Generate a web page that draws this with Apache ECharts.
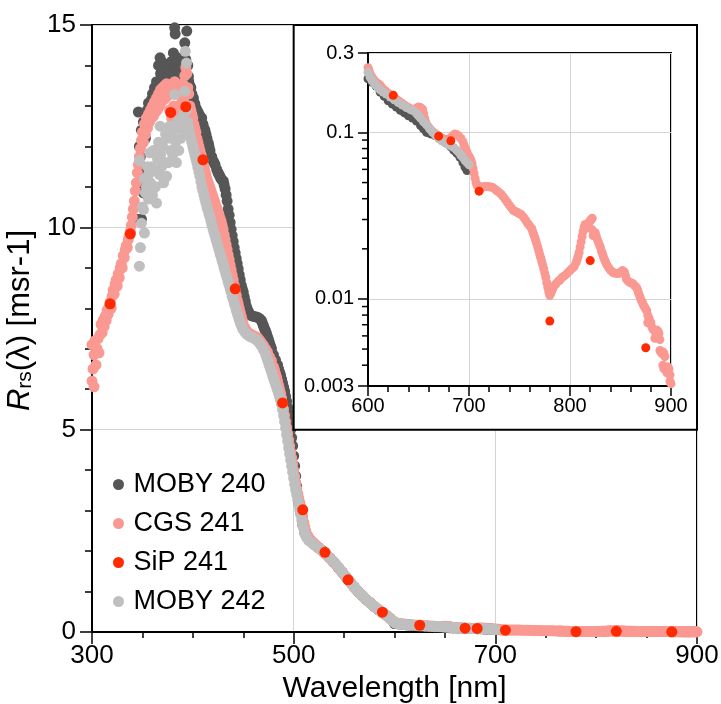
<!DOCTYPE html>
<html><head><meta charset="utf-8">
<script src="https://cdn.jsdelivr.net/npm/echarts@6/dist/echarts.min.js"></script>
<style>html,body{margin:0;padding:0;background:#fff}#c{width:721px;height:704px}</style>
</head><body><div id="c"></div>
<script>
// ---- data: [wavelength nm, Rrs msr^-1] ----
const moby240 = [[345,10.2],[346,12.85],[346.5,11.1],[347,12.0],[348,11.75],[349,10.2],[349,12.4],[350,11.5],[351,10.85],[351,12.6],[352,11.3],[353,12.2],[354,12.6],[355,12.9],[356,13.07],[357,12.8],[358,13.1],[359,13.16],[360,13.3],[361,13.3],[362,13.45],[363,13.4],[364,13.6],[365,13.57],[366,14.0],[367.5,14.19],[368,13.8],[369,13.9],[370.7,14.06],[371,13.7],[372,13.8],[373,13.65],[374,13.73],[375,13.85],[376,13.9],[377,13.7],[378,14.0],[379,14.1],[380.7,14.31],[381,13.8],[382,14.93],[382.5,14.78],[383,13.9],[384,14.2],[385.6,14.1],[386,13.8],[387,13.9],[388,13.75],[389,14.0],[390,13.6],[391,13.9],[392,14.56],[393,14.15],[394,14.85],[395,14.0],[395.6,13.73],[396,13.6],[397,13.5],[398,13.45],[399,13.3],[400.5,13.2],[401,13.1],[402,13.05],[403,12.95],[404,12.9],[405,12.85],[406,12.8],[407,12.75],[408.8,12.7],[410,12.55],[411,12.45],[412,12.4],[413,12.3],[414,12.2],[415.4,12.08],[416,12.0],[417,11.9],[418.7,11.75],[420,11.65],[421,11.6],[422,11.55],[423.7,11.43],[425,11.35],[426,11.3],[427,11.25],[428,11.2],[429,11.17],[430.3,11.14],[431,11.05],[432,10.95],[433,10.8],[434,10.65],[435,10.45],[436,10.3],[437,10.12],[438,9.95],[439,9.8],[440,9.65],[441,9.5],[442,9.37],[443,9.23],[444,9.1],[445,8.97],[446,8.83],[447,8.7],[448,8.57],[449,8.48],[450,8.4],[451,8.28],[452,8.17],[453,8.05],[454,7.98],[455,7.92],[456,7.87],[457,7.84],[458,7.82],[460,7.8],[462,7.79],[464,7.78],[466,7.75],[468,7.7],[469,7.63],[470,7.57],[471,7.5],[472,7.45],[473,7.38],[474,7.3],[475,7.23],[476,7.15],[477,7.07],[478,7.0],[480,6.85],[482,6.72],[484,6.6],[485,6.5],[486,6.42],[487,6.35],[488,6.25],[489,6.15],[490,6.05],[491,5.95],[492,5.82],[493,5.7],[494,5.55],[495,5.4],[496,5.2],[497,5.0],[498,4.8],[499,4.6],[500,4.35],[501,4.1],[502,3.85],[503,3.6],[504,3.4],[505,3.2],[507,2.95],[509,2.65],[511,2.45],[514,2.33],[517,2.25],[520,2.18],[524,2.1],[528,2.02],[532,1.93],[536,1.83],[540,1.72],[544,1.6],[548,1.48],[552,1.35],[556,1.23],[560,1.11],[564,1.0],[568,0.9],[572,0.8],[576,0.72],[580,0.63],[584,0.55],[588,0.48],[592,0.41],[596,0.33],[600,0.21],[604,0.2],[608,0.19],[612,0.175],[616,0.165],[620,0.155],[624,0.148],[628,0.142],[632,0.136],[636,0.131],[640,0.126],[644,0.122],[648,0.117],[652,0.11],[655,0.105],[658,0.1],[662,0.098],[666,0.096],[670,0.094],[674,0.09],[678,0.086],[682,0.082],[685,0.078],[688,0.075],[691,0.071],[694,0.066],[696,0.062],[698,0.059]];

const cgs241 = [[300,6.2],[300,7.1],[301,6.5],[302,6.06],[302,6.85],[303,7.2],[304,6.6],[305,7.0],[306,7.25],[307,6.9],[308,7.35],[309,7.6],[310,7.4],[311,7.7],[312,7.55],[313,7.8],[314,7.7],[315,7.95],[316,7.85],[317,8.05],[318,8.15],[319,8.0],[320,8.3],[321,8.45],[322,8.35],[323,8.6],[324,8.7],[325,8.55],[326,8.85],[327,8.75],[328,9.0],[329,9.1],[330,9.0],[331,9.3],[332,9.25],[333,9.45],[334,9.55],[335,9.5],[336,9.7],[337,9.8],[338,9.9],[339,10.05],[340,10.25],[341,10.45],[342,10.65],[343,10.9],[344,11.1],[345,11.35],[346,11.55],[347,11.75],[348,11.95],[349,12.15],[350,12.35],[351,12.1],[352,12.55],[353,12.3],[354,12.7],[355,12.45],[356,12.8],[357,12.6],[358,12.9],[359,12.7],[360,13.0],[361,12.75],[362,13.1],[363,12.85],[364,13.2],[365,12.9],[366,13.3],[367,13.0],[368,13.4],[369,13.1],[370,13.45],[371,13.15],[372,13.5],[373,13.2],[374,13.55],[375,13.25],[376,13.5],[377,12.9],[378,13.35],[379,12.7],[380,13.55],[381,13.0],[382,13.6],[383,12.75],[384,13.45],[385,13.0],[386,13.35],[387,12.9],[388,13.4],[389,13.2],[390,13.55],[391,13.1],[392,13.75],[393,13.95],[394,13.8],[395,13.45],[396,13.3],[397,13.0],[398,12.9],[399,12.8],[400,12.7],[401,12.55],[402,12.45],[403,12.35],[404,12.2],[405,12.1],[406,12.0],[407,11.9],[408,11.8],[409,11.7],[410,11.65],[411,11.5],[412,11.4],[413,11.3],[414,11.2],[415,11.12],[416,11.05],[417,10.97],[418,10.9],[419,10.82],[420,10.75],[421,10.67],[422,10.6],[423,10.52],[424,10.45],[425,10.37],[426,10.3],[427,10.22],[428,10.15],[429,10.05],[430,9.95],[431,9.82],[432,9.7],[433,9.57],[434,9.45],[435,9.32],[436,9.2],[437,9.07],[438,8.95],[439,8.82],[440,8.7],[441,8.57],[442,8.45],[443,8.32],[444,8.2],[445,8.1],[446,8.0],[447,7.9],[448,7.8],[449,7.7],[450,7.6],[452,7.5],[454,7.42],[456,7.38],[458,7.35],[460,7.33],[462,7.3],[464,7.28],[466,7.22],[468,7.15],[470,7.08],[472,7.0],[474,6.92],[476,6.8],[478,6.7],[480,6.55],[481,6.47],[482,6.38],[483,6.3],[484,6.2],[485,6.1],[486,6.0],[487,5.9],[488,5.78],[489,5.65],[490,5.5],[491,5.35],[492,5.2],[493,5.05],[494,4.9],[495,4.75],[496,4.6],[497,4.45],[498,4.3],[499,4.15],[500,4.0],[501,3.85],[502,3.7],[503,3.55],[504,3.4],[505,3.3],[506,3.2],[507,3.1],[508,3.0],[509,2.85],[510,2.7],[511,2.6],[512,2.5],[514,2.38],[516,2.3],[518,2.24],[520,2.2],[522,2.15],[524,2.1],[526,2.06],[528,2.01],[530,1.97],[532,1.92],[534,1.87],[536,1.82],[538,1.77],[540,1.72],[542,1.66],[544,1.6],[546,1.54],[548,1.48],[550,1.41],[552,1.35],[554,1.29],[556,1.23],[558,1.17],[560,1.11],[562,1.05],[564,1.0],[566,0.95],[568,0.9],[570,0.85],[572,0.8],[574,0.76],[576,0.72],[578,0.67],[580,0.63],[582,0.59],[584,0.55],[586,0.52],[588,0.48],[590,0.45],[592,0.41],[594,0.37],[596,0.33],[598,0.29],
[600,0.245],[601,0.236],[602,0.225],[604,0.215],[606,0.207],[608,0.2],[610,0.196],[612,0.192],[614,0.185],[616,0.18],[618,0.176],[620,0.172],[622,0.168],[624,0.165],[626,0.162],[628,0.158],[630,0.155],[632,0.152],[634,0.149],[636,0.146],[638,0.143],[640,0.141],[642,0.139],[644,0.137],[646,0.138],[648,0.14],[650,0.142],[652,0.141],[654,0.138],[655,0.13],[656,0.122],[657,0.116],[658,0.112],[660,0.108],[662,0.104],[664,0.101],[666,0.099],[668,0.097],[670,0.095],[672,0.093],[674,0.092],[676,0.091],[678,0.09],[680,0.091],[682,0.093],[684,0.096],[686,0.098],[688,0.097],[690,0.095],[692,0.092],[694,0.088],[695,0.084],[696,0.081],[697,0.078],[698,0.076],[700,0.072],[701,0.07],[702,0.068],[703,0.065],[704,0.061],[705,0.057],[706,0.053],[707,0.05],[708,0.048],[710,0.047],[712,0.047],[714,0.0472],[716,0.0473],[718,0.0473],[720,0.0472],[722,0.047],[724,0.0465],[726,0.0455],[728,0.0445],[730,0.0435],[732,0.0425],[734,0.041],[736,0.0395],[738,0.038],[740,0.0365],[742,0.0352],[744,0.034],[746,0.0335],[748,0.033],[750,0.0325],[752,0.032],[754,0.031],[756,0.0298],[758,0.0285],[760,0.0275],[762,0.0265],[763,0.0255],[764,0.0245],[765,0.0235],[766,0.0225],[767,0.0215],[768,0.0205],[769,0.0195],[770,0.0185],[771,0.0177],[772,0.0168],[773,0.016],[774,0.0152],[775,0.0143],[776,0.0135],[777,0.0125],[778,0.0117],[779,0.011],[780,0.0105],[781,0.0108],[782,0.0112],[783,0.0116],[784,0.0119],[786,0.0123],[788,0.0127],[790,0.013],[792,0.0134],[794,0.0137],[796,0.014],[798,0.0144],[800,0.0148],[802,0.0152],[804,0.0156],[806,0.0165],[807,0.0172],[808,0.018],[809,0.019],[810,0.0205],[811,0.022],[812,0.0237],[813,0.0255],[814,0.027],[815,0.028],[816,0.0275],[817,0.0268],[818,0.028],[819,0.029],[820,0.0295],[821,0.03],[822,0.0305],[822,0.026],[823,0.024],[824,0.0245],[825,0.025],[826,0.0238],[827,0.0228],[828,0.022],[829,0.0212],[830,0.0205],[831,0.0195],[832,0.0188],[833,0.018],[834,0.0173],[835,0.0168],[836,0.0162],[838,0.0155],[840,0.0149],[842,0.0145],[844,0.0143],[846,0.0142],[848,0.0142],[850,0.0145],[852,0.0148],[854,0.0145],[855,0.0138],[856,0.0131],[858,0.0127],[860,0.0125],[862,0.0124],[864,0.012],[866,0.0117],[867,0.0113],[868,0.0108],[869,0.0104],[870,0.01],[871,0.0097],[872,0.0094],[873,0.0091],[874,0.0089],[875,0.0087],[876,0.0085],[877,0.008],[877,0.0072],[878,0.0077],[879,0.0074],[880,0.0072],[881,0.0068],[882,0.0066],[883,0.0065],[884,0.0058],[885,0.0062],[886,0.0065],[887,0.0064],[888,0.0062],[889,0.0057],[889,0.0049],[890,0.0048],[891,0.0047],[892,0.0048],[893,0.0047],[894,0.0045],[892,0.004],[893,0.0038],[895,0.0039],[896,0.0036],[897,0.0039],[898,0.0038],[899,0.0035],[899,0.0032],[900,0.0031]];

const sip241 = [[318,8.11],[338,9.84],[378,12.84],[393,12.98],[410,11.67],[442,8.48],[489,5.66],[509,3.02],[531,1.97],[554,1.29],[588,0.49],[625,0.167],[670,0.095],[682,0.089],[710,0.0444],[780,0.00736],[820,0.0170],[875,0.00509]];

const moby242 = [[347,9.04],[348,9.5],[347,11.65],[349,10.1],[350,10.5],[351,10.44],[352,9.86],[352,11.2],[353,10.85],[354,11.0],[355,11.5],[356,11.3],[356,10.7],[357.5,11.84],[358,11.1],[359,11.5],[360,10.8],[361,11.9],[362,11.4],[363,11.0],[364,10.6],[365,11.7],[366,12.1],[367,11.3],[367.5,12.5],[368,11.8],[369,11.5],[370,12.0],[371,11.1],[372,11.6],[373,12.3],[374,11.26],[375,12.2],[376,11.6],[377,12.5],[378,11.9],[379,12.3],[380,11.8],[381,12.4],[382,13.28],[383,12.1],[383.7,11.6],[385,12.6],[386,11.9],[387,12.66],[388,12.2],[389,12.5],[390,12.4],[391,12.8],[392,13.36],[392.5,14.35],[393.7,14.06],[394,12.9],[395,12.6],[396,12.45],[397,12.33],[398,12.2],[399,12.1],[400,12.0],[401,11.9],[402,11.8],[403,11.7],[404,11.6],[405,11.48],[406,11.37],[407,11.26],[408,11.13],[409,11.0],[410,10.9],[411,10.8],[412,10.7],[413,10.6],[414,10.5],[415,10.42],[416,10.33],[417,10.25],[418,10.15],[419,10.05],[420,9.97],[421,9.88],[422,9.8],[423,9.7],[424,9.62],[425,9.53],[426,9.45],[427,9.35],[428,9.27],[429,9.18],[430,9.1],[431,9.0],[432,8.92],[433,8.83],[434,8.75],[435,8.65],[436,8.57],[437,8.48],[438,8.4],[439,8.3],[440,8.22],[441,8.13],[442,8.05],[443,7.96],[444,7.88],[445,7.8],[446,7.72],[447,7.65],[448,7.58],[449,7.52],[450,7.47],[452,7.4],[454,7.35],[456,7.31],[458,7.29],[460,7.27],[462,7.24],[464,7.2],[466,7.14],[468,7.07],[470,6.98],[472,6.88],[473,6.8],[474,6.73],[475,6.66],[476,6.58],[477,6.5],[478,6.43],[479,6.35],[480,6.27],[481,6.2],[482,6.13],[483,6.05],[484,5.98],[485,5.9],[486,5.82],[487,5.73],[488,5.63],[489,5.5],[490,5.35],[491,5.2],[492,5.04],[493,4.88],[494,4.72],[495,4.55],[496,4.4],[497,4.25],[498,4.1],[499,3.95],[500,3.8],[501,3.65],[502,3.52],[503,3.4],[504,3.27],[505,3.15],[506,3.02],[507,2.9],[508,2.77],[509,2.65],[510,2.55],[511,2.45],[512,2.38],[513,2.33],[515,2.26],[518,2.2],[521,2.14],[524,2.08],[527,2.03],[530,1.97],[533,1.9],[536,1.82],[539,1.75],[542,1.67],[545,1.58],[548,1.49],[551,1.39],[554,1.3],[557,1.21],[560,1.12],[563,1.03],[566,0.95],[569,0.88],[572,0.8],[575,0.74],[578,0.67],[581,0.61],[584,0.55],[587,0.5],[590,0.44],[593,0.39],[596,0.33],[598,0.28],[600,0.23],[602,0.215],[604,0.205],[606,0.198],[608,0.192],[610,0.186],[612,0.18],[615,0.175],[618,0.17],[622,0.163],[626,0.157],[630,0.151],[634,0.146],[638,0.141],[642,0.137],[645,0.135],[648,0.13],[650,0.126],[652,0.122],[655,0.116],[658,0.111],[661,0.105],[664,0.1],[667,0.096],[670,0.092],[673,0.089],[676,0.087],[679,0.085],[682,0.083],[685,0.081],[688,0.078],[690,0.076],[692,0.073],[694,0.071],[696,0.068],[698,0.066],[700,0.064]];

const legendNames = ['MOBY 240', 'CGS 241', 'SiP 241', 'MOBY 242'];
// inset log-axis minor tick values
const insetMinorTicks = [0.09,0.08,0.07,0.06,0.05,0.04,0.03,0.02,0.009,0.008,0.007,0.006,0.005,0.004];
// region of the main axes covered by the inset panel: [wl0, rrs_top, wl1, rrs_bottom]
const insetPanel = [[500, 15, 900, 5]];
const INSET_WL_MIN = 600, INSET_WL_MAX = 900;

const FONT = "'Liberation Sans', Arial, Helvetica, sans-serif";
const COL = {m240:'#565656', cgs:'#fa9892', sip:'#ff2a00', m242:'#bfbfbf'};

const chart = echarts.init(document.getElementById('c'), null, {renderer:'canvas'});
const inIns = d => d.filter(p => p[0] >= INSET_WL_MIN);

function scatter(name, data, color, xi, size, z) {
  return {name, type:'scatter', xAxisIndex:xi, yAxisIndex:xi, data: xi ? inIns(data) : data,
    symbol:'circle', symbolSize:size, clip:false, z,
    itemStyle:{color, opacity:1}, emphasis:{disabled:true}, silent:true};
}

const axisCommon = {
  axisLine:{show:true, onZero:false, lineStyle:{color:'#000', width:2}},
  axisTick:{show:true, lineStyle:{color:'#000', width:1.5}},
  splitLine:{show:true, lineStyle:{color:'#d4d4d4', width:1}},
};

chart.setOption({
  animation:false,
  backgroundColor:'#fff',
  textStyle:{fontFamily:FONT},
  grid:[
    {left:92, top:25, width:605, height:607, show:true, borderColor:'#000', borderWidth:2, backgroundColor:'transparent', containLabel:false, outerBoundsMode:'none'},
    {left:368, top:53, width:303, height:333, show:true, borderColor:'#000', borderWidth:2, backgroundColor:'transparent', containLabel:false, outerBoundsMode:'none', z:20}
  ],
  legend:{
    orient:'vertical', left:108, top:466, itemWidth:20, itemHeight:11, itemGap:12,
    icon:'circle', selectedMode:false, data:legendNames,
    textStyle:{fontSize:27, color:'#000', fontFamily:FONT, lineHeight:27}
  },
  xAxis:[
    Object.assign({}, axisCommon, {gridIndex:0, type:'value', min:300, max:900, interval:200,
      axisTick:{show:true, length:12, lineStyle:{color:'#000', width:1.5}},
      minorTick:{show:true, splitNumber:4, length:6, lineStyle:{color:'#000', width:1.5}},
      axisLabel:{fontSize:26, color:'#000', margin:11, fontFamily:FONT},
      name:'Wavelength [nm]', nameLocation:'middle', nameGap:38,
      nameTextStyle:{fontSize:30, color:'#000', fontFamily:FONT}}),
    Object.assign({}, axisCommon, {gridIndex:1, type:'value', min:INSET_WL_MIN, max:INSET_WL_MAX, interval:100, z:20,
      axisTick:{show:true, length:10, lineStyle:{color:'#000', width:1.5}},
      minorTick:{show:true, splitNumber:5, length:6, lineStyle:{color:'#000', width:1.5}},
      axisLabel:{fontSize:20, color:'#000', margin:10, fontFamily:FONT}})
  ],
  yAxis:[
    Object.assign({}, axisCommon, {gridIndex:0, type:'value', min:0, max:15, interval:5,
      axisTick:{show:true, length:12, lineStyle:{color:'#000', width:1.5}},
      minorTick:{show:true, splitNumber:5, length:7, lineStyle:{color:'#000', width:1.5}},
      axisLabel:{fontSize:26, color:'#000', margin:16, fontFamily:FONT},
      name:'{i|R}{s|rs}{n|(λ) [msr-1]}', nameLocation:'middle', nameGap:38,
      nameTextStyle:{fontSize:31, color:'#000', fontFamily:FONT, padding:[0,0,0,16],
        rich:{i:{fontStyle:'italic', fontSize:31, fontFamily:FONT}, s:{fontSize:21, lineHeight:12, verticalAlign:'bottom', fontFamily:FONT}, n:{fontSize:31, fontFamily:FONT}}}}),
    Object.assign({}, axisCommon, {gridIndex:1, type:'log', logBase:10, min:0.003, max:0.3, z:20,
      axisTick:{show:true, length:10, lineStyle:{color:'#000', width:1.5}},
      axisLabel:{fontSize:20, color:'#000', margin:14, fontFamily:FONT,
        formatter: v => String(parseFloat(Number(v).toPrecision(6)))}})
  ],
  series:[
    scatter('MOBY 240', moby240, COL.m240, 0, 11, 2),
    scatter('CGS 241', cgs241, COL.cgs, 0, 11, 3),
    scatter('MOBY 242', moby242, COL.m242, 0, 11, 4),
    scatter('SiP 241', sip241, COL.sip, 0, 11, 5),
    {type:'custom', xAxisIndex:0, yAxisIndex:0, z:10, silent:true, clip:false,
      data: insetPanel,
      renderItem:(params, api) => {
        const p0 = api.coord([api.value(0), api.value(1)]);
        const p1 = api.coord([api.value(2), api.value(3)]);
        return {type:'rect', shape:{x:p0[0], y:p0[1], width:p1[0]-p0[0], height:p1[1]-p0[1]},
          style:{fill:'#fff', stroke:'#000', lineWidth:2}};
      }},
    scatter('MOBY 240', moby240, COL.m240, 1, 9, 21),
    scatter('CGS 241', cgs241, COL.cgs, 1, 9, 22),
    scatter('MOBY 242', moby242, COL.m242, 1, 9, 23),
    scatter('SiP 241', sip241, COL.sip, 1, 9, 24),
    {type:'custom', xAxisIndex:1, yAxisIndex:1, z:25, silent:true, clip:false,
      data: insetMinorTicks.map(v => [INSET_WL_MIN, v]),
      renderItem:(params, api) => {
        const p = api.coord([api.value(0), api.value(1)]);
        return {type:'line', shape:{x1:p[0]-6, y1:p[1], x2:p[0], y2:p[1]},
          style:{stroke:'#000', lineWidth:1.5}};
      }}
  ]
});
</script>
</body></html>
